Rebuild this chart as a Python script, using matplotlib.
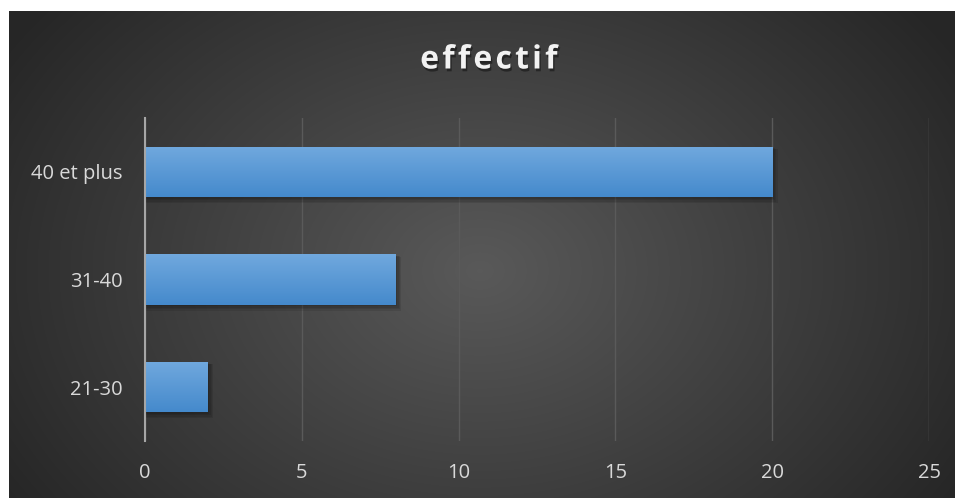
import numpy as np
import matplotlib.pyplot as plt
import matplotlib.patheffects as pe

# =====================
# Data
# =====================
categories = ["21-30", "31-40", "40 et plus"]
effectif = [2, 8, 20]
xticks = [0, 5, 10, 15, 20, 25]
title = "effectif"

TXT = "#d9d9d9"
plt.rcParams['font.family'] = ['Open Sans', 'DejaVu Sans']

fig = plt.figure(figsize=(9.55, 4.98), dpi=100)
fig.patch.set_facecolor("white")

# dark radial background
bg = fig.add_axes([9 / 955, 0, 946 / 955, 487 / 498], zorder=-10)
yy, xx = np.mgrid[0:487, 0:946]
r = np.sqrt(((xx - 470) / 560.0) ** 2 + ((yy - 260) / 420.0) ** 2)
r = np.clip(r, 0, 1)
c_in, c_out = np.array([0.35, 0.35, 0.35]), np.array([0.15, 0.15, 0.15])
img = c_in[None, None, :] * (1 - r[..., None]) + c_out[None, None, :] * r[..., None]
bg.imshow(img, aspect="auto", interpolation="bilinear")
bg.axis("off")

ax = fig.add_axes([145 / 955, 57 / 498, 784 / 955, 323 / 498])
ax.patch.set_alpha(0)

y = np.arange(len(categories))
h = 0.47
bars = ax.barh(y, effectif, height=h, color="#5b9bd5", zorder=3)

# soft shadow + vertical gradient in each bar
grad = np.linspace(0, 1, 64)[:, None]
top, bot = np.array([0.44, 0.66, 0.87]), np.array([0.27, 0.54, 0.80])
gimg = top[None, None, :] * (1 - grad[..., None]) + bot[None, None, :] * grad[..., None]
for b, v in zip(bars, effectif):
    yb = b.get_y()
    for k in range(4):
        ax.barh(yb + h / 2 - 0.015 - 0.008 * k, v + 0.05 + 0.04 * k,
                height=h + 0.01 * k, left=0, color="black",
                alpha=0.09, zorder=2, linewidth=0)
    im = ax.imshow(gimg, extent=[0, v, yb, yb + h], origin="upper",
                   aspect="auto", zorder=4)
    im.set_clip_path(b)

ax.set_xlim(0, 25)
ax.set_ylim(-0.5, 2.5)
ax.set_xticks(xticks)
ax.set_yticks(y)
ax.set_yticklabels(categories)
ax.grid(axis="x", color="#5a5a5a", linewidth=1, zorder=0)
for s in ["top", "right", "bottom"]:
    ax.spines[s].set_visible(False)
ax.spines["left"].set_color("#a6a6a6")
ax.spines["left"].set_linewidth(1.5)
ax.spines["left"].set_zorder(5)
ax.tick_params(axis="both", length=0, colors=TXT, labelsize=14.5)
ax.tick_params(axis="x", pad=16)
ax.tick_params(axis="y", pad=16)

# title with a little letter spacing (hair spaces)
fig.text(489 / 955, 1 - 60 / 498, "\u200a".join(title), ha="center", va="center",
         color="#f2f2f2", fontsize=23, fontweight="bold",
         path_effects=[pe.withSimplePatchShadow(offset=(1, -2), shadow_rgbFace="black", alpha=0.4)])

fig.savefig("out.png", dpi=100)
